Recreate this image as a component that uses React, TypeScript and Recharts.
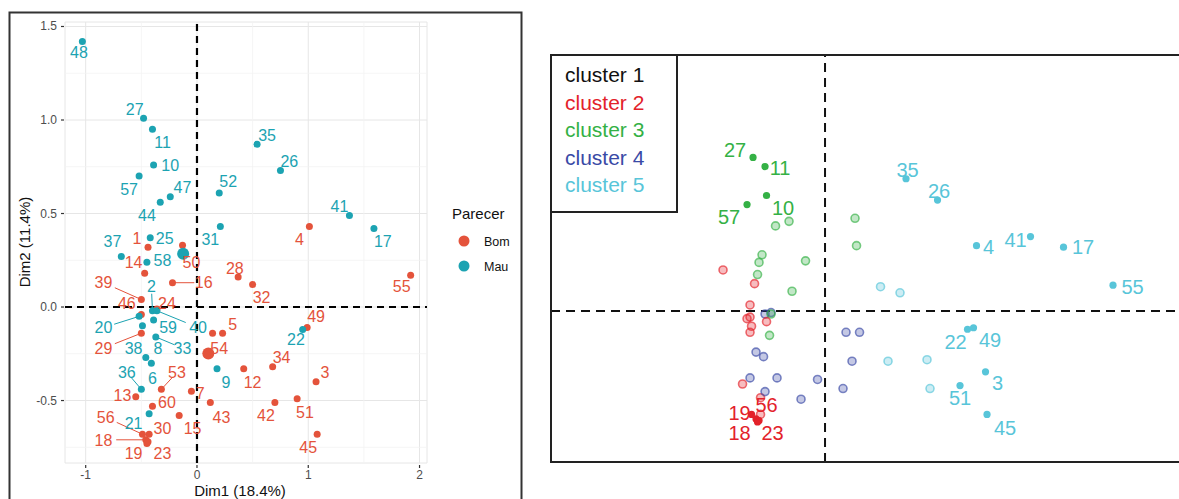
import React from 'react';
import { ScatterChart, Scatter, XAxis, YAxis, CartesianGrid, ReferenceLine } from 'recharts';

const FONT = '"Liberation Sans", Arial, Helvetica, sans-serif';

// individuals 1..60, PCA scores (Dim1, Dim2)
const ids = Array.from({ length: 60 }, (_, i) => i + 1);
const dim1 = [
  -0.44, -0.40, 1.07, 1.01, 0.23, -0.41, -0.05, -0.46, 0.18, -0.39,
  -0.40, 0.42, -0.55, -0.47, -0.16, -0.22, 1.59, -0.46, -0.45, -0.52,
  -0.43, 0.95, -0.44, -0.36, -0.42, 0.75, -0.48, 0.37, -0.50, -0.43,
  0.21, 0.50, -0.37, 0.68, 0.54, -0.50, -0.68, -0.49, -0.50, -0.36,
  1.37, 0.70, 0.12, -0.33, 1.08, -0.50, -0.24, -1.03, 0.99, -0.13,
  0.90, 0.20, -0.32, 0.14, 1.92, -0.49, -0.52, -0.45, -0.39, -0.40,
];
const dim2 = [
  0.32, -0.02, -0.40, 0.43, -0.14, -0.30, -0.45, -0.27, -0.33, 0.76,
  0.95, -0.33, -0.48, 0.18, -0.58, 0.13, 0.42, -0.71, -0.73, -0.05,
  -0.57, -0.12, -0.72, -0.01, 0.37, 0.73, 1.01, 0.16, -0.14, -0.68,
  0.43, 0.12, -0.16, -0.32, 0.87, -0.44, 0.27, -0.10, 0.04, -0.02,
  0.49, -0.51, -0.51, 0.56, -0.68, -0.04, 0.59, 1.42, -0.11, 0.33,
  -0.49, 0.61, -0.44, -0.14, 0.17, -0.68, 0.70, 0.24, -0.07, -0.53,
];
const parecer = [
  'Bom', 'Mau', 'Bom', 'Bom', 'Bom', 'Mau', 'Bom', 'Mau', 'Mau', 'Mau',
  'Mau', 'Bom', 'Bom', 'Bom', 'Bom', 'Bom', 'Mau', 'Bom', 'Bom', 'Mau',
  'Mau', 'Mau', 'Bom', 'Bom', 'Mau', 'Mau', 'Mau', 'Bom', 'Bom', 'Bom',
  'Mau', 'Bom', 'Mau', 'Bom', 'Mau', 'Mau', 'Mau', 'Mau', 'Bom', 'Mau',
  'Mau', 'Bom', 'Bom', 'Mau', 'Bom', 'Bom', 'Mau', 'Mau', 'Bom', 'Bom',
  'Bom', 'Mau', 'Bom', 'Bom', 'Bom', 'Bom', 'Mau', 'Mau', 'Mau', 'Bom',
];
const cluster = [
  3, 4, 5, 5, 4, 4, 4, 4, 4, 3,
  3, 5, 2, 2, 4, 3, 5, 2, 2, 2,
  2, 5, 2, 4, 3, 5, 3, 5, 2, 2,
  3, 5, 3, 5, 5, 4, 2, 2, 2, 3,
  5, 5, 4, 3, 5, 2, 3, 1, 5, 3,
  5, 3, 4, 4, 5, 2, 3, 3, 2, 4,
];

// where the repelled labels sit on the left map (data units, by id)
const leftLabelX = [
  -0.54, -0.41, 1.15, 0.92, 0.32, -0.40, 0.03, -0.35, 0.26, -0.24,
  -0.31, 0.50, -0.67, -0.57, -0.04, 0.06, 1.67, -0.84, -0.57, -0.84,
  -0.57, 0.89, -0.31, -0.27, -0.29, 0.83, -0.56, 0.34, -0.84, -0.31,
  0.12, 0.58, -0.13, 0.76, 0.63, -0.63, -0.76, -0.57, -0.84, 0.01,
  1.28, 0.62, 0.22, -0.45, 1.00, -0.63, -0.13, -1.06, 1.07, -0.05,
  0.97, 0.28, -0.18, 0.20, 1.84, -0.82, -0.61, -0.31, -0.26, -0.27,
];
const leftLabelY = [
  0.37, 0.11, -0.35, 0.36, -0.09, -0.38, -0.46, -0.22, -0.40, 0.76,
  0.88, -0.40, -0.47, 0.24, -0.65, 0.13, 0.35, -0.71, -0.78, -0.11,
  -0.62, -0.17, -0.78, 0.02, 0.37, 0.78, 1.06, 0.21, -0.22, -0.65,
  0.36, 0.05, -0.22, -0.27, 0.92, -0.35, 0.35, -0.22, 0.13, -0.11,
  0.54, -0.58, -0.59, 0.49, -0.75, 0.02, 0.64, 1.36, -0.05, 0.24,
  -0.56, 0.67, -0.35, -0.22, 0.11, -0.59, 0.63, 0.25, -0.11, -0.51,
];
const leftLinked = [39, 2, 20, 40, 29, 33, 36, 53, 16, 56, 18];

// right map: labelled individuals and their label anchors
const rightLabeled = [27, 11, 10, 57, 35, 26, 4, 41, 17, 55, 22, 49, 3, 51, 45, 19, 56, 18, 23];
const rightLabelX = [-0.60, -0.30, -0.28, -0.64, 0.55, 0.76, 1.09, 1.27, 1.72, 2.05, 0.87, 1.10, 1.15, 0.90, 1.20, -0.57, -0.39, -0.57, -0.35];
const rightLabelY = [1.06, 0.94, 0.68, 0.62, 0.93, 0.79, 0.42, 0.47, 0.42, 0.16, -0.20, -0.19, -0.47, -0.57, -0.77, -0.67, -0.62, -0.80, -0.80];

const parecerLevels = ['Bom', 'Mau'];
const clusterNames = ['cluster 1', 'cluster 2', 'cluster 3', 'cluster 4', 'cluster 5'];

const groupColor: Record<string, string> = { Bom: '#E4533B', Mau: '#1CA3B2' };
const clusterColor = ['#111111', '#E3222A', '#34B145', '#3A4AA6', '#58C5D9'];

const rows = ids.map((id, i) => ({ id, x: dim1[i], y: dim2[i], parecer: parecer[i], cluster: cluster[i] }));

const centroids = parecerLevels.map((g) => {
  const pts = rows.filter((r) => r.parecer === g);
  return {
    parecer: g,
    x: pts.reduce((s, r) => s + r.x, 0) / pts.length,
    y: pts.reduce((s, r) => s + r.y, 0) / pts.length,
  };
});

const leftLabels = rows.map((r, i) => ({ id: r.id, x: leftLabelX[i], y: leftLabelY[i], parecer: r.parecer }));

const leftLinks = leftLinked.map((id) => {
  const r = rows[id - 1];
  const lx = leftLabelX[id - 1];
  const ly = leftLabelY[id - 1];
  const f = 0.7;
  return { id, parecer: r.parecer, from: { x: r.x, y: r.y }, to: { x: r.x + (lx - r.x) * f, y: r.y + (ly - r.y) * f } };
});

const rightSolid = rows.filter((r) => rightLabeled.includes(r.id));
const rightPlain = rows.filter((r) => !rightLabeled.includes(r.id));
const rightLabels = rightLabeled.map((id, i) => ({ id, x: rightLabelX[i], y: rightLabelY[i], cluster: cluster[id - 1] }));

const XTick = (props: any) => {
  const { x, y, payload } = props;
  return (
    <g>
      <line x1={x} x2={x} y1={y + 2} y2={y + 5} stroke="#333" strokeWidth={1.2} />
      <text x={x} y={y + 16} textAnchor="middle" fontSize={12} fill="#4D4D4D" fontFamily={FONT}>
        {payload.value}
      </text>
    </g>
  );
};

const YTick = (props: any) => {
  const { x, y, payload } = props;
  return (
    <g>
      <line x1={x - 4} x2={x - 1} y1={y} y2={y} stroke="#333" strokeWidth={1.2} />
      <text x={x - 8} y={y + 4} textAnchor="end" fontSize={12} fill="#4D4D4D" fontFamily={FONT}>
        {Number(payload.value).toFixed(1)}
      </text>
    </g>
  );
};

const minorX = [-0.5, 0.5, 1.5];
const minorY = [-0.75, -0.25, 0.25, 0.75, 1.25];

function LeftMap() {
  return (
    <ScatterChart width={440} height={499} margin={{ top: 22, right: 13, bottom: 16, left: 5 }}>
      <CartesianGrid stroke="#E6E6E6" strokeWidth={1} />
      {minorX.map((v) => (
        <ReferenceLine key={`mx${v}`} x={v} stroke="#F2F2F2" strokeWidth={0.8} />
      ))}
      {minorY.map((v) => (
        <ReferenceLine key={`my${v}`} y={v} stroke="#F2F2F2" strokeWidth={0.8} />
      ))}
      <XAxis
        type="number"
        dataKey="x"
        domain={[-1.186, 2.067]}
        ticks={[-1, 0, 1, 2]}
        allowDataOverflow
        axisLine={false}
        tickLine={false}
        tickSize={0}
        tickMargin={0}
        height={20}
        tick={<XTick />}
      />
      <YAxis
        type="number"
        dataKey="y"
        domain={[-0.834, 1.524]}
        ticks={[-0.5, 0, 0.5, 1, 1.5]}
        allowDataOverflow
        axisLine={false}
        tickLine={false}
        tickSize={0}
        tickMargin={0}
        width={60}
        tick={<YTick />}
      />
      <ReferenceLine x={0} stroke="#000" strokeWidth={2.2} strokeDasharray="7 5" />
      <ReferenceLine y={0} stroke="#000" strokeWidth={2.2} strokeDasharray="7 5" />
      {leftLinks.map((l) => (
        <ReferenceLine
          key={`ln${l.id}`}
          segment={[l.from, l.to]}
          stroke={groupColor[l.parecer]}
          strokeWidth={1}
        />
      ))}
      {parecerLevels.map((g) => (
        <Scatter
          key={g}
          data={rows.filter((r) => r.parecer === g)}
          isAnimationActive={false}
          shape={(p: any) => <circle cx={p.cx} cy={p.cy} r={3.5} fill={groupColor[g]} />}
        />
      ))}
      <Scatter
        data={centroids}
        isAnimationActive={false}
        shape={(p: any) => <circle cx={p.cx} cy={p.cy} r={6} fill={groupColor[p.payload.parecer]} />}
      />
      <Scatter
        data={leftLabels}
        isAnimationActive={false}
        shape={(p: any) => (
          <text
            x={p.cx}
            y={p.cy}
            dy="0.36em"
            textAnchor="middle"
            fontSize={16}
            fontFamily={FONT}
            fill={groupColor[p.payload.parecer]}
          >
            {p.payload.id}
          </text>
        )}
      />
    </ScatterChart>
  );
}

function RightMap() {
  return (
    <ScatterChart width={638} height={499} margin={{ top: 55, right: 0, bottom: 37, left: 10 }}>
      <XAxis type="number" dataKey="x" domain={[-1.827, 2.36]} allowDataOverflow hide />
      <YAxis type="number" dataKey="y" domain={[-0.993, 1.684]} allowDataOverflow hide />
      <ReferenceLine x={0} stroke="#111" strokeWidth={2} strokeDasharray="9 6" />
      <ReferenceLine y={0} stroke="#111" strokeWidth={2} strokeDasharray="9 6" />
      <Scatter
        data={rightPlain}
        isAnimationActive={false}
        shape={(p: any) => {
          const c = clusterColor[p.payload.cluster - 1];
          return (
            <circle cx={p.cx} cy={p.cy} r={4} fill={c} fillOpacity={0.3} stroke={c} strokeOpacity={0.65} strokeWidth={1.6} />
          );
        }}
      />
      <Scatter
        data={rightSolid}
        isAnimationActive={false}
        shape={(p: any) => <circle cx={p.cx} cy={p.cy} r={3.6} fill={clusterColor[p.payload.cluster - 1]} />}
      />
      <Scatter
        data={rightLabels}
        isAnimationActive={false}
        shape={(p: any) => (
          <text
            x={p.cx}
            y={p.cy}
            dy="0.36em"
            textAnchor="middle"
            fontSize={20}
            fontFamily={FONT}
            fill={clusterColor[p.payload.cluster - 1]}
          >
            {p.payload.id}
          </text>
        )}
      />
    </ScatterChart>
  );
}

export default function App() {
  return (
    <div style={{ position: 'absolute', left: 0, top: 0, width: 1179, height: 499, background: '#fff', overflow: 'hidden' }}>
      <div style={{ position: 'absolute', left: 0, top: 0 }}>
        <LeftMap />
      </div>
      <div style={{ position: 'absolute', left: 541, top: 0 }}>
        <RightMap />
      </div>
      <svg
        width={1179}
        height={499}
        style={{ position: 'absolute', left: 0, top: 0, pointerEvents: 'none' }}
        fontFamily={FONT}
      >
        {/* left figure frame, titles and legend */}
        <rect x={9.5} y={12.5} width={512} height={500} fill="none" stroke="#333" strokeWidth={2} />
        <text x={240} y={496} textAnchor="middle" fontSize={15} fill="#111">
          Dim1 (18.4%)
        </text>
        <text transform="translate(30,242) rotate(-90)" textAnchor="middle" fontSize={15} fill="#111">
          Dim2 (11.4%)
        </text>
        <text x={452} y={219} fontSize={15} fill="#111">
          Parecer
        </text>
        {parecerLevels.map((g, i) => (
          <g key={g}>
            <circle cx={464} cy={241 + i * 25} r={5.5} fill={groupColor[g]} />
            <text x={484} y={246 + i * 25} fontSize={12.5} fill="#111">
              {g}
            </text>
          </g>
        ))}
        {/* right figure frame and cluster legend */}
        <rect x={551} y={55} width={700} height={407} fill="none" stroke="#222" strokeWidth={2} />
        <rect x={551} y={55} width={126} height={157} fill="#fff" stroke="#222" strokeWidth={2} />
        {clusterNames.map((c, i) => (
          <text key={c} x={565} y={82 + i * 27.5} fontSize={21} fill={clusterColor[i]}>
            {c}
          </text>
        ))}
      </svg>
    </div>
  );
}
